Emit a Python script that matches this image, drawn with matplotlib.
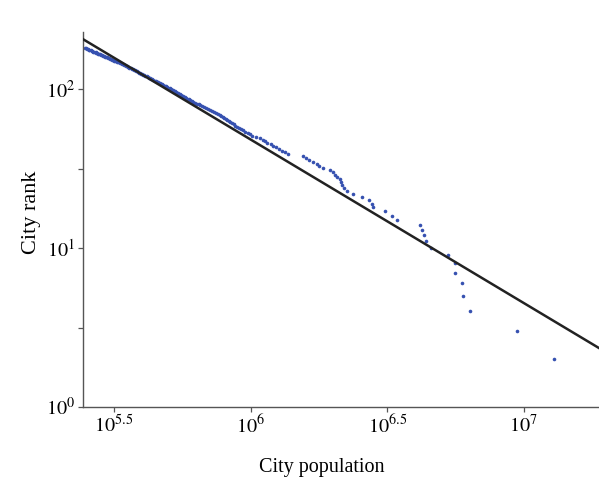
import matplotlib
matplotlib.use("Agg")
import matplotlib.pyplot as plt
import numpy as np

plt.rcParams["font.family"] = ["Liberation Serif", "DejaVu Serif"]
plt.rcParams["mathtext.fontset"] = "stix"

# city populations (thousands), sorted largest first; rank 1 lies off the chart
population_k = [
    12880, 9440, 6350, 5980, 5930, 5600, 5580, 5270, 4570, 4380,
    4310, 4240, 4170, 3430, 3290, 3100, 2810, 2780, 2710, 2550,
    2370, 2250, 2200, 2160, 2150, 2123, 2070, 2036, 2002, 1951,
    1840, 1780, 1750, 1691, 1636, 1596, 1556, 1370, 1337, 1303,
    1270, 1239, 1208, 1186, 1148, 1128, 1109, 1082, 1047,
    1013, 994, 975, 956, 939, 923, 908, 894, 880, 867,
    854, 841, 831, 820, 810, 800, 792, 782, 773, 760,
    748, 735, 723, 711, 699, 687, 678, 666, 655, 646,
    637, 626, 618, 609, 600, 594, 586, 580, 574, 567,
    561, 555, 550, 544, 538, 533, 527, 522, 517, 512,
    507, 500, 495, 490, 485, 480, 475, 470, 465, 460,
    455, 451, 446, 441, 437, 434, 428, 424, 420, 417,
    412, 409, 405, 401, 397, 394, 390, 387, 383, 380,
    377, 373, 370, 367, 364, 360, 357, 355, 352, 349,
    346, 344, 341, 338, 335, 333, 330, 327, 324, 320,
    317, 314, 312, 309, 307, 304, 301, 298, 296, 294,
    291, 288, 286, 284, 282, 279, 277, 275, 272, 271,
    268, 266, 264, 262, 260, 257, 256, 254, 252, 250,
    248,
]
first_rank = 2

# fitted line: log10(rank) = intercept + slope * log10(population)
fit_intercept = 7.857
fit_slope = -1.029

x_ticks = [10**5.5, 10**6, 10**6.5, 10**7]
x_labels = [r"$10^{5.5}$", r"$10^{6}$", r"$10^{6.5}$", r"$10^{7}$"]
y_ticks = [1, 10, 100]
y_labels = [r"$10^{0}$", r"$10^{1}$", r"$10^{2}$"]
y_minor = [10**0.5, 10**1.5]

pop = np.array(population_k) * 1000.0
rank = np.arange(first_rank, first_rank + len(pop))

fig = plt.figure(figsize=(5.99, 4.8), dpi=100)
ax = fig.add_axes([0.1386, 0.152, 0.8614, 0.781])

xlim = (10**5.387, 10**7.275)
ax.set_xscale("log")
ax.set_yscale("log")
ax.set_xlim(xlim)
ax.set_ylim(1, 10**2.358)

ax.plot(pop, rank, "o", ms=2.6, mew=0, color="#3651b0", zorder=2)
lx = np.array(xlim)
ax.plot(lx, 10**(fit_intercept + fit_slope * np.log10(lx)), color="#222222", lw=1.8, zorder=3)

ax.xaxis.set_major_locator(matplotlib.ticker.FixedLocator(x_ticks))
ax.xaxis.set_minor_locator(matplotlib.ticker.NullLocator())
ax.set_xticklabels(x_labels)
ax.yaxis.set_major_locator(matplotlib.ticker.FixedLocator(y_ticks))
ax.yaxis.set_minor_locator(matplotlib.ticker.FixedLocator(y_minor))
ax.set_yticklabels(y_labels)
ax.yaxis.set_minor_formatter(matplotlib.ticker.NullFormatter())

for s in ("top", "right"):
    ax.spines[s].set_visible(False)
for s in ("left", "bottom"):
    ax.spines[s].set_color("#555555")
    ax.spines[s].set_linewidth(1.0)
ax.tick_params(which="both", direction="out", length=3.8, width=0.9, color="#555555",
               labelsize=14.5, pad=2)

ax.set_xlabel("City population", fontsize=14.5)
ax.set_ylabel("City rank", fontsize=16)
ax.xaxis.set_label_coords(0.463, -0.135)
ax.yaxis.set_label_coords(-0.082, 0.52)

fig.savefig("out.png", dpi=100)
print("wrote out.png")
